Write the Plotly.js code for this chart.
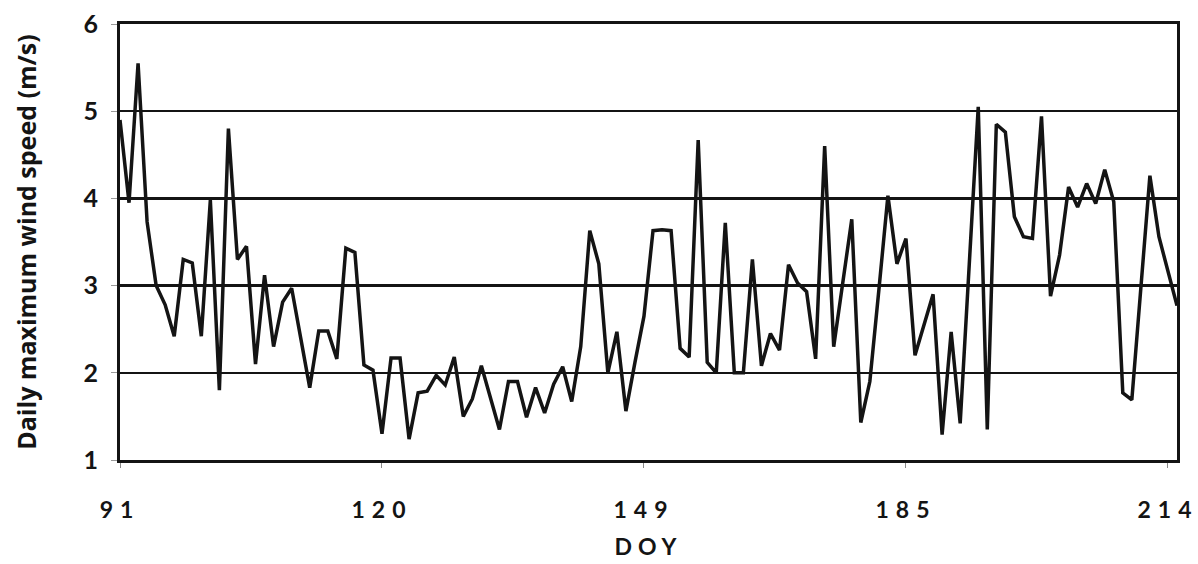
<!DOCTYPE html>
<html>
<head>
<meta charset="utf-8">
<script src="https://cdn.plot.ly/plotly-3.0.1.min.js"></script>
<style>html,body{margin:0;padding:0;background:#fff;}</style>
</head>
<body>
<div id="chart" style="width:1198px;height:564px;"></div>
<script>
// DOY tick labels and the category positions they label
const doyLabels = ['91', '120', '149', '185', '214'];
const doyLabelIndex = [0, 29, 58, 87, 116];

// Daily maximum wind speed (m/s), one value per day in order
const windSpeed = [
  4.9, 3.95, 5.55, 3.73, 3.0, 2.78, 2.42, 3.3, 3.26, 2.42,
  3.98, 1.8, 4.8, 3.3, 3.45, 2.1, 3.12, 2.3, 2.81, 2.97,
  2.4, 1.83, 2.48, 2.48, 2.16, 3.43, 3.38, 2.09, 2.03, 1.3,
  2.17, 2.17, 1.24, 1.77, 1.79, 1.97, 1.86, 2.18, 1.5, 1.7,
  2.08, 1.71, 1.35, 1.9, 1.9, 1.49, 1.83, 1.54, 1.87, 2.07,
  1.67, 2.3, 3.63, 3.25, 2.0, 2.47, 1.56, 2.12, 2.65, 3.63,
  3.64, 3.63, 2.28, 2.18, 4.67, 2.12, 2.0, 3.72, 2.0, 2.0,
  3.3, 2.08, 2.45, 2.26, 3.24, 3.03, 2.93, 2.16, 4.6, 2.3,
  3.0, 3.76, 1.43, 1.9, 2.95, 4.03, 3.25, 3.54, 2.2, 2.55,
  2.9, 1.29, 2.47, 1.42, 3.3, 5.05, 1.35, 4.85, 4.76, 3.79,
  3.56, 3.54, 4.94, 2.88, 3.35, 4.13, 3.9, 4.17, 3.94, 4.33,
  3.96, 1.77, 1.69, 3.0, 4.26, 3.56, 3.15, 2.77
];
const dayIndex = windSpeed.map((_, i) => i);

const yTicks = [1, 2, 3, 4, 5, 6];

const ink = '#141414';
const fontFam = 'Lato, "Open Sans", "DejaVu Sans", sans-serif';
const titleFam = '"Open Sans", Lato, "DejaVu Sans", sans-serif';

const trace = {
  x: dayIndex,
  y: windSpeed,
  type: 'scatter',
  mode: 'lines',
  line: { color: ink, width: 3.5 },
  hoverinfo: 'x+y'
};

const layout = {
  width: 1198,
  height: 564,
  margin: { l: 120, r: 21, t: 24, b: 104 },
  paper_bgcolor: '#ffffff',
  plot_bgcolor: '#ffffff',
  showlegend: false,
  xaxis: {
    range: [0, 117],
    tickvals: doyLabelIndex,
    ticktext: doyLabels,
    showgrid: false,
    zeroline: false,
    showline: true,
    mirror: true,
    linecolor: ink,
    linewidth: 3,
    ticks: 'outside',
    ticklen: 5,
    tickwidth: 1,
    tickcolor: '#888',
    ticklabelstandoff: 22,
    tickfont: { family: fontFam, size: 23, color: ink, weight: 'bold' },
    title: { text: 'DOY', font: { family: fontFam, size: 23, color: ink, weight: 'bold' }, standoff: 18 }
  },
  yaxis: {
    range: [1, 6],
    tickvals: yTicks,
    showgrid: true,
    gridcolor: ink,
    gridwidth: 2.5,
    zeroline: false,
    showline: true,
    mirror: true,
    linecolor: ink,
    linewidth: 3,
    ticks: 'outside',
    ticklen: 6,
    tickwidth: 1,
    tickcolor: '#999',
    ticklabelstandoff: 8,
    tickfont: { family: fontFam, size: 25, color: ink, weight: 'bold' },
    title: { text: 'Daily maximum wind speed (m/s)', font: { family: titleFam, size: 25, color: ink, weight: 'bold' }, standoff: 40 }
  }
};

Plotly.newPlot('chart', [trace], layout, { displayModeBar: false, staticPlot: true }).then(() => {
  document.querySelectorAll('.xtick text').forEach(t => { t.style.letterSpacing = '7px'; });
  const xt = document.querySelector('.g-xtitle text');
  if (xt) xt.style.letterSpacing = '6px';
});
</script>
</body>
</html>
